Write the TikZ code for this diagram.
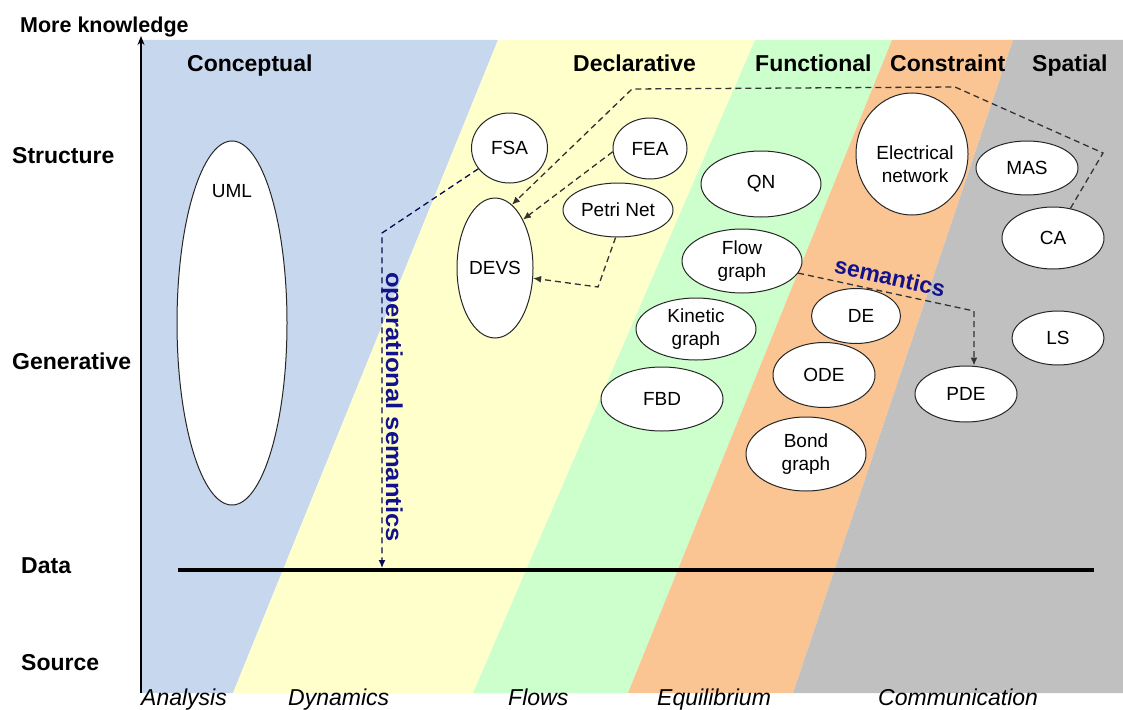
\documentclass[tikz,border=0pt]{standalone}
\usepackage{fontspec}
\setmainfont{Liberation Sans}
\usetikzlibrary{shapes.geometric,arrows.meta}
\definecolor{cblue}{HTML}{C6D7EE}
\definecolor{cyellow}{HTML}{FFFFCC}
\definecolor{cgreen}{HTML}{CCFFCC}
\definecolor{corange}{HTML}{FAC592}
\definecolor{cgray}{HTML}{C0C0C0}
\definecolor{navyt}{HTML}{12128C}
\begin{document}
\begin{tikzpicture}[x=1pt,y=-1pt,
  ell/.style={ellipse, draw=black!85, line width=1pt, fill=white, inner sep=0pt, align=center, font=\fontsize{19}{22.8}\selectfont},
  elltext/.style={inner sep=0pt, align=center, font=\fontsize{19}{22.8}\selectfont},
  head/.style={anchor=base west, inner sep=0pt, font=\fontsize{23}{27}\selectfont\bfseries},
  foot/.style={anchor=base west, inner sep=0pt, font=\fontsize{23}{27}\selectfont\itshape},
  bluelabel/.style={inner sep=0pt, text=navyt, font=\fontsize{23}{27}\selectfont\bfseries},
  dashc/.style={dash pattern=on 6pt off 4pt, line width=1.3pt, draw=black!80},
  tipa/.style={-{Latex[length=8pt,width=7pt]}},
]
\useasboundingbox (0,0) rectangle (1123,709);
% bands
\fill[cblue]   (141,40) -- (498,40) -- (233,693) -- (141,693) -- cycle;
\fill[cyellow] (498,40) -- (755,40) -- (473,693) -- (233,693) -- cycle;
\fill[cgreen]  (755,40) -- (892,40) -- (628,693) -- (473,693) -- cycle;
\fill[corange] (892,40) -- (1013,40) -- (793,693) -- (628,693) -- cycle;
\fill[cgray]   (1013,40) -- (1123,40) -- (1123,693) -- (793,693) -- cycle;

% axis and data line
\coordinate (axb) at (141,693);
\coordinate (axt) at (141,36);
\draw[line width=2.5pt, -{Stealth[length=9pt,width=7pt]}] (axb) -- (axt);
\coordinate (dl) at (178,570);
\coordinate (dr) at (1094,570);
\draw[line width=3.5pt] (dl) -- (dr);

% labels
\node[anchor=base west, inner sep=0pt, font=\fontsize{21.5}{25}\selectfont\bfseries] (mk) at (20,33) {More knowledge};
\node[head] (lstr) at (12,163) {Structure};
\node[head] (lgen) at (12,369) {Generative};
\node[head] (ldat) at (21,573) {Data};
\node[head] (lsrc) at (21,670) {Source};
\node[head] (hcon) at (187,71) {Conceptual};
\node[head] (hdec) at (573,71) {Declarative};
\node[head] (hfun) at (755,71) {Functional};
\node[head] (hcst) at (890,71) {Constraint};
\node[head] (hspa) at (1032,71) {Spatial};
\node[foot] (fana) at (141,705) {Analysis};
\node[foot] (fdyn) at (288,705) {Dynamics};
\node[foot] (fflo) at (508,705) {Flows};
\node[foot] (fequ) at (657,705) {Equilibrium};
\node[foot] (fcom) at (878,705) {Communication};

% ellipses
\node[ell, minimum width=110pt, minimum height=364pt] (uml) at (232,323) {};
\node[elltext] (umlt) at (232,191) {UML};
\node[ell, minimum width=76pt, minimum height=70pt] (fsa) at (509.5,148) {FSA};
\node[ell, minimum width=74pt, minimum height=61pt] (fea) at (650,148.5) {FEA};
\node[ell, minimum width=110pt, minimum height=54pt] (petri) at (618,210) {Petri Net};
\node[ell, minimum width=76pt, minimum height=140pt] (devs) at (495,268) {DEVS};
\node[ell, minimum width=120pt, minimum height=66pt] (qn) at (761,184) {QN};
\node[ell, minimum width=120pt, minimum height=64pt] (flow) at (742,261) {Flow\\graph};
\node[ell, minimum width=120pt, minimum height=62pt] (kin) at (696,329) {Kinetic\\graph};
\node[ell, minimum width=122pt, minimum height=64pt] (fbd) at (662,399) {FBD};
\node[ell, minimum width=112pt, minimum height=122pt] (elec) at (912,154) {};
\node[elltext] (elect) at (915,164) {Electrical\\network};
\node[ell, minimum width=89pt, minimum height=55pt] (de) at (856,316) {\hspace*{10pt}DE};
\node[ell, minimum width=102pt, minimum height=65pt] (ode) at (824,375) {ODE};
\node[ell, minimum width=120pt, minimum height=74pt] (bond) at (806,454) {Bond\\graph};
\node[ell, minimum width=102pt, minimum height=54pt] (mas) at (1027,168) {MAS};
\node[ell, minimum width=102pt, minimum height=62pt] (ca) at (1053,238) {CA};
\node[ell, minimum width=92pt, minimum height=54pt] (ls) at (1058,338) {LS};
\node[ell, minimum width=102pt, minimum height=56pt] (pde) at (966,394) {PDE};

% connectors
\coordinate (os1) at (382,233);
\coordinate (os2) at (382,568);
\draw[dashc, draw=navyt!60!black, tipa] (fsa) -- (os1) -- (os2);

\coordinate (b1) at (1103,153);
\coordinate (b2) at (955,87);
\coordinate (b3) at (632,89);
\draw[dashc, tipa] (ca) -- (b1) -- (b2) -- (b3) -- (devs.75);

\draw[dashc, tipa] (fea.185) -- (devs.60);

\coordinate (p1) at (598,287);
\draw[dashc, tipa] (petri.265) -- (p1) -- (devs.-15);

\coordinate (f1) at (974,311);
\draw[dashc, tipa] (flow) -- (f1) -- (f1 |- pde.north);

% blue labels
\node[bluelabel, rotate=-90] (opsem) at (392,407) {\scalebox{1.11}[1]{operational semantics}};
\node[bluelabel, rotate=-13] (sem) at (890,277) {semantics};
\end{tikzpicture}
\end{document}
